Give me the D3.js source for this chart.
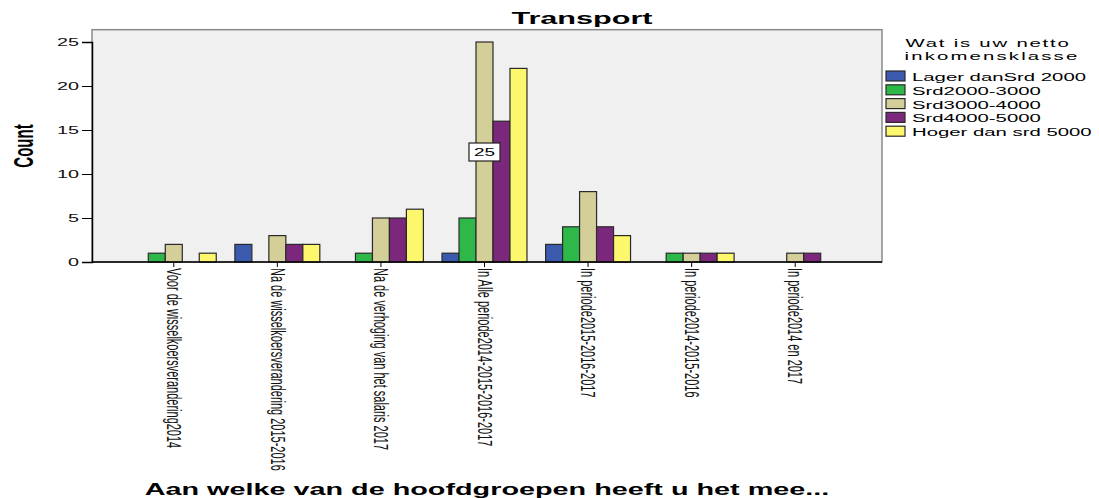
<!DOCTYPE html>
<html>
<head>
<meta charset="utf-8">
<script src="https://cdn.jsdelivr.net/npm/d3@7"></script>
<style>
  body { margin: 0; background: #fff; }
  text { font-family: "Liberation Sans", Arial, sans-serif; }
</style>
</head>
<body>
<div id="chart"></div>
<script>
const categories = [
  "Voor de wisselkoersverandering2014",
  "Na de wisselkoersverandering 2015-2016",
  "Na de verhoging van het salaris 2017",
  "In Alle periode2014-2015-2016-2017",
  "In periode2015-2016-2017",
  "In periode2014-2015-2016",
  "In periode2014 en 2017"
];
const seriesNames = ["Lager danSrd 2000", "Srd2000-3000", "Srd3000-4000", "Srd4000-5000", "Hoger dan srd 5000"];
const seriesColors = ["#3b5aad", "#2fb84a", "#d4cf98", "#7b287c", "#fcf76c"];
const lager = [0, 2, 0, 1, 2, 0, 0];
const srd2000 = [1, 0, 1, 5, 4, 1, 0];
const srd3000 = [2, 3, 5, 25, 8, 1, 1];
const srd4000 = [0, 2, 5, 16, 4, 1, 1];
const hoger = [1, 2, 6, 22, 3, 1, 0];
const yTicks = [0, 5, 10, 15, 20, 25];
const yMax = 26.4;
const seriesValues = [lager, srd2000, srd3000, srd4000, hoger];

// the picture is stretched sideways, so all text gets a horizontal scale
const SX = 1.8;

const svg = d3.select("#chart").append("svg")
    .attr("width", 1099)
    .attr("height", 498);

const plotLeft = 92, plotRight = 882, plotTop = 30, plotBottom = 262;

const x0 = d3.scaleBand()
    .domain(categories)
    .range([122, 847])
    .paddingInner(0.18)
    .paddingOuter(0.09);

const x1 = d3.scaleBand()
    .domain(seriesNames)
    .range([0, x0.bandwidth()]);

const y = d3.scaleLinear()
    .domain([0, 25])
    .range([plotBottom, 42]);

// plot background and frame
svg.append("rect")
    .attr("x", plotLeft)
    .attr("y", y(yMax))
    .attr("width", plotRight - plotLeft)
    .attr("height", plotBottom - y(yMax))
    .attr("fill", "#f0f0f0")
    .attr("stroke", "#8a8a8a")
    .attr("stroke-width", 1.5);

// bars
const rows = [];
categories.forEach((c, i) => {
    seriesNames.forEach((s, j) => {
        if (seriesValues[j][i] > 0) rows.push({cat: c, name: s, value: seriesValues[j][i], color: seriesColors[j]});
    });
});

svg.append("g").selectAll("rect")
    .data(rows)
    .enter()
    .append("rect")
        .attr("x", d => x0(d.cat) + x1(d.name))
        .attr("y", d => y(d.value))
        .attr("width", x1.bandwidth())
        .attr("height", d => plotBottom - y(d.value))
        .attr("fill", d => d.color)
        .attr("stroke", "#2a2a2a")
        .attr("stroke-width", 1.2);

// y axis
const yAxis = svg.append("g")
    .attr("transform", `translate(${plotLeft},0)`)
    .call(d3.axisLeft(y).tickValues(yTicks).tickSize(10).tickPadding(3));
yAxis.select(".domain").attr("stroke", "#000").attr("stroke-width", 1.5);
yAxis.selectAll(".tick line").attr("stroke", "#000");
yAxis.selectAll(".tick text")
    .attr("x", -13 / SX)
    .attr("transform", `scale(${SX},1)`)
    .attr("font-size", 11)
    .attr("fill", "#111");

// x axis
const xAxis = svg.append("g")
    .attr("transform", `translate(0,${plotBottom})`)
    .call(d3.axisBottom(x0).tickSize(5).tickSizeOuter(0));
xAxis.select(".domain").attr("d", `M${plotLeft},0H${plotRight}`).attr("stroke", "#000").attr("stroke-width", 1.5);
xAxis.selectAll(".tick line").attr("stroke", "#000");
xAxis.selectAll(".tick text")
    .attr("x", 0)
    .attr("y", 0)
    .attr("dy", null)
    .attr("text-anchor", "start")
    .attr("dominant-baseline", "central")
    .attr("transform", `translate(0,6) scale(${SX},1) rotate(90)`)
    .attr("font-size", 11)
    .attr("fill", "#111");

// value label on the tallest bar
const peakCat = categories[3];
const peakVal = srd3000[3];
const cx = x0(peakCat) + x0.bandwidth() / 2;
svg.append("rect")
    .attr("x", cx - 15.5)
    .attr("y", y(peakVal / 2) - 9)
    .attr("width", 31)
    .attr("height", 18)
    .attr("fill", "#fff")
    .attr("stroke", "#222")
    .attr("stroke-width", 1.2);
svg.append("text")
    .attr("transform", `translate(${cx},${y(peakVal / 2) + 4}) scale(${SX},1)`)
    .attr("text-anchor", "middle")
    .attr("font-size", 10.5)
    .text(peakVal);

// titles
svg.append("text")
    .attr("transform", `translate(582,24) scale(${SX},1)`)
    .attr("text-anchor", "middle")
    .attr("font-size", 17)
    .attr("font-weight", "bold")
    .text("Transport");

svg.append("text")
    .attr("transform", `translate(33,${(plotTop + plotBottom) / 2}) scale(${SX},1) rotate(-90)`)
    .attr("text-anchor", "middle")
    .attr("font-size", 15)
    .attr("font-weight", "bold")
    .text("Count");

svg.append("text")
    .attr("transform", `translate(${(plotLeft + plotRight) / 2},495) scale(${SX},1)`)
    .attr("text-anchor", "middle")
    .attr("font-size", 16)
    .attr("font-weight", "bold")
    .text("Aan welke van de hoofdgroepen heeft u het mee...");

// legend
const legend = svg.append("g");
legend.append("text")
    .attr("transform", `translate(988,47) scale(${SX},1)`)
    .attr("text-anchor", "middle")
    .attr("font-size", 11.3)
    .attr("letter-spacing", 1)
    .text("Wat is uw netto");
legend.append("text")
    .attr("transform", `translate(992,60) scale(${SX},1)`)
    .attr("text-anchor", "middle")
    .attr("font-size", 11.3)
    .attr("letter-spacing", 1.2)
    .text("inkomensklasse");

const items = legend.selectAll("g.item")
    .data(seriesNames)
    .enter()
    .append("g")
        .attr("class", "item")
        .attr("transform", (d, i) => `translate(886,${71 + i * 13.8})`);
items.append("rect")
    .attr("width", 19)
    .attr("height", 10)
    .attr("fill", (d, i) => seriesColors[i])
    .attr("stroke", "#2a2a2a")
    .attr("stroke-width", 1.2);
items.append("text")
    .attr("transform", `translate(26,10) scale(${SX},1)`)
    .attr("font-size", 11.3)
    .text(d => d);
</script>
</body>
</html>
